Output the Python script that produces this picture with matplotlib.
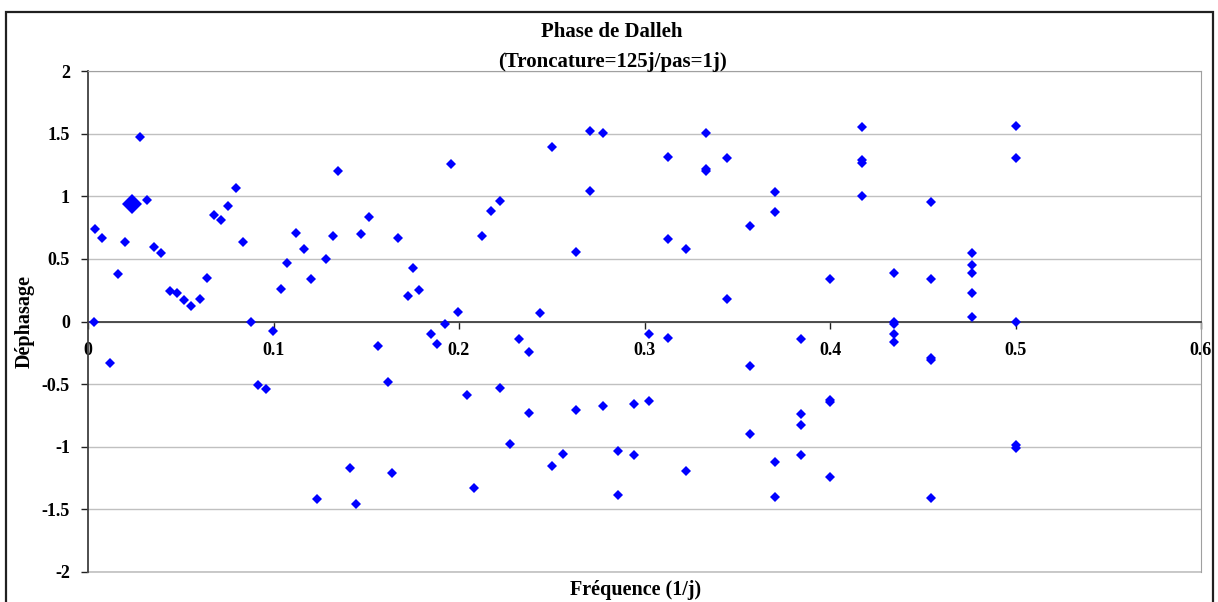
import matplotlib
matplotlib.use('Agg')
import matplotlib.pyplot as plt
from matplotlib.patches import Rectangle

# valeurs
freq = [0.0031, 0.0038, 0.0077, 0.012, 0.016, 0.0198, 0.0282, 0.032, 0.0358, 0.0395,
        0.044, 0.048, 0.0519, 0.0557, 0.0602, 0.064, 0.0677, 0.0715, 0.0755, 0.080,
        0.0837, 0.0877, 0.0915, 0.0961, 0.0999, 0.1042, 0.1075, 0.112, 0.1166, 0.1204,
        0.1235, 0.1281, 0.1319, 0.1349, 0.141, 0.1447, 0.1472, 0.1517, 0.1561, 0.1617,
        0.1639, 0.167, 0.1723, 0.1752, 0.1784, 0.1851, 0.1883, 0.1923, 0.1959, 0.1996,
        0.2043, 0.2081, 0.2126, 0.2172, 0.2219, 0.2219, 0.2273, 0.2325, 0.2379, 0.2379,
        0.2438, 0.25, 0.25, 0.2559, 0.2631, 0.2631, 0.2706, 0.2706, 0.2776, 0.2776,
        0.2857, 0.2857, 0.2943, 0.2943, 0.3026, 0.3026, 0.3127, 0.3127, 0.3127, 0.3225,
        0.3225, 0.3333, 0.3333, 0.3333, 0.3447, 0.3447, 0.3567, 0.3567, 0.3567,
        0.3704, 0.3704, 0.3704, 0.3704, 0.3842, 0.3842, 0.3842, 0.3842,
        0.4002, 0.4002, 0.4002, 0.4002, 0.4171, 0.4171, 0.4171, 0.4171,
        0.4345, 0.4345, 0.4345, 0.4345, 0.4345, 0.4543, 0.4543, 0.4543, 0.4543, 0.4543,
        0.4764, 0.4764, 0.4764, 0.4764, 0.4764, 0.5003, 0.5003, 0.5003, 0.5003, 0.5003]
phase = [0.0, 0.735, 0.664, -0.332, 0.38, 0.637, 1.477, 0.972, 0.598, 0.547,
         0.242, 0.231, 0.173, 0.122, 0.181, 0.351, 0.853, 0.813, 0.922, 1.062,
         0.637, 0.0, -0.51, -0.539, -0.077, 0.26, 0.467, 0.704, 0.576, 0.34,
         -1.418, 0.497, 0.685, 1.198, -1.171, -1.458, 0.696, 0.834, -0.194, -0.481,
         -1.211, 0.664, 0.202, 0.428, 0.252, -0.096, -0.183, -0.016, 1.259, 0.072,
         -0.59, -1.331, 0.685, 0.882, 0.962, -0.531, -0.975, -0.138, -0.244, -0.728,
         0.064, 1.397, -1.153, -1.054, 0.558, -0.707, 1.524, 1.041, 1.506, -0.677,
         -1.033, -1.389, -0.659, -1.062, -0.096, -0.637, 1.317, 0.656, -0.13, 0.576,
         -1.193, 1.506, 1.217, 1.2, 1.309, 0.181, 0.765, -0.353, -0.895,
         1.03, 0.874, -1.124, -1.4, -0.138, -0.738, -0.826, -1.062,
         0.34, -0.625, -0.645, -1.241, 1.554, 1.291, 1.267, 1.001,
         0.39, 0.0, -0.016, -0.096, -0.165, 0.954, 0.34, -0.29, -0.31, -1.41,
         0.547, 0.449, 0.39, 0.231, 0.034, 1.564, 1.309, 0.0, -0.983, -1.01]

# point mis en évidence
freq_hl = [0.0235]
phase_hl = [0.94]

x_ticks = [0, 0.1, 0.2, 0.3, 0.4, 0.5, 0.6]
x_labels = ['0', '0.1', '0.2', '0.3', '0.4', '0.5', '0.6']
y_ticks = [-2, -1.5, -1, -0.5, 0, 0.5, 1, 1.5, 2]
y_labels = ['-2', '-1.5', '-1', '-0.5', '0', '0.5', '1', '1.5', '2']

plt.rcParams['font.family'] = ['Liberation Serif', 'DejaVu Serif']
plt.rcParams['font.weight'] = 'bold'
plt.rcParams['xtick.labelsize'] = 13
plt.rcParams['ytick.labelsize'] = 13

W, H = 1218, 602
fig = plt.figure(figsize=(W / 100, H / 100), dpi=100)
ax = fig.add_axes([88 / W, 1 - 572 / H, (1201 - 88) / W, (572 - 71) / H])

# axe des x à y=0, comme dans Excel
ax.spines['bottom'].set_position(('data', 0))
ax.spines['bottom'].set_color('#404040')
ax.spines['bottom'].set_linewidth(1.3)
ax.spines['left'].set_color('#404040')
ax.spines['left'].set_linewidth(1.3)
ax.spines['top'].set_color('#a0a0a0')
ax.spines['right'].set_color('#a0a0a0')

ax.plot(freq, phase, linestyle='none', marker='D', markersize=5,
        color='#0000ff', markeredgewidth=0, clip_on=False, zorder=3)
ax.plot(freq_hl, phase_hl, linestyle='none', marker='D', markersize=10.5,
        color='#0000ff', markeredgewidth=0, clip_on=False, zorder=3)

ax.set_xlim(0, 0.6)
ax.set_ylim(-2, 2)
ax.set_xticks(x_ticks)
ax.set_xticklabels(x_labels, fontsize=13, fontweight='bold')
ax.set_yticks(y_ticks)
ax.set_yticklabels(y_labels, fontsize=13, fontweight='bold')

ax.grid(True, axis='y', color='#c0c0c0', linewidth=1.0)
ax.axhline(-2, color='#c0c0c0', linewidth=1.2, clip_on=False, zorder=1)
ax.set_axisbelow(True)

ax.tick_params(axis='x', direction='out', length=5, width=1, color='#202020',
               pad=10, labelsize=13)
ax.tick_params(axis='y', direction='out', length=5, width=1, color='#202020',
               pad=8, labelsize=13)

fig.text(612 / W, 1 - 37 / H, 'Phase de Dalleh', ha='center', va='baseline',
         fontsize=15, fontweight='bold')
fig.text(612 / W, 1 - 66.5 / H, '(Troncature=125j/pas=1j)', ha='center',
         va='baseline', fontsize=15, fontweight='bold')
fig.text(25 / W, 1 - 322 / H, 'Déphasage', rotation=90, ha='center',
         va='center', fontsize=14.5, fontweight='bold')
fig.text(636 / W, 1 - 595 / H, 'Fréquence (1/j)', ha='center', va='baseline',
         fontsize=14.5, fontweight='bold')

# cadre extérieur du graphique
fig.patches.append(Rectangle((6 / W, -0.05), (1213 - 6) / W, 1.05 - 12 / H,
                             transform=fig.transFigure, fill=False,
                             edgecolor='#202020', linewidth=1.6))

fig.savefig('out.png', dpi=100)
